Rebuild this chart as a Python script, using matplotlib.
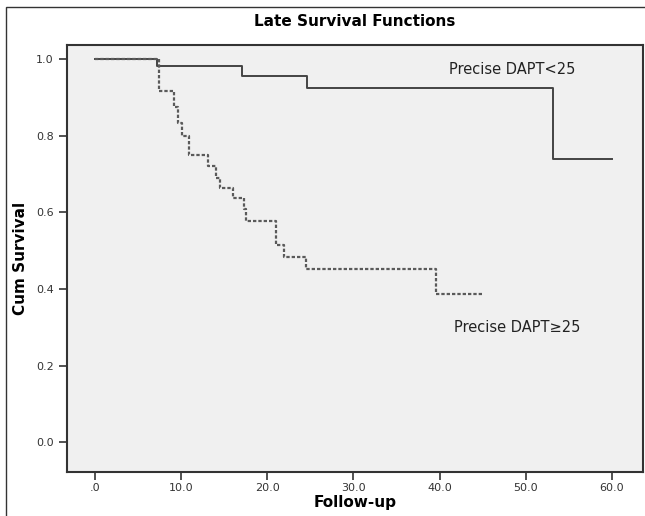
import matplotlib
matplotlib.use("Agg")
import matplotlib.pyplot as plt
from matplotlib.patches import Rectangle

# Kaplan-Meier step data
time_low = [0, 7.2, 17.1, 24.6, 53.2, 60.0]
surv_low = [1.0, 0.982, 0.956, 0.924, 0.74, 0.74]

time_high = [0, 7.5, 9.2, 9.7, 10.1, 11.0, 13.1, 14.1, 14.6, 16.1, 17.3, 17.6,
             21.0, 22.0, 24.5, 39.6, 45.0]
surv_high = [1.0, 0.917, 0.875, 0.833, 0.80, 0.75, 0.721, 0.689, 0.663, 0.637,
             0.61, 0.578, 0.515, 0.483, 0.452, 0.386, 0.386]

x_ticks = [0, 10, 20, 30, 40, 50, 60]
x_labels = [".0", "10.0", "20.0", "30.0", "40.0", "50.0", "60.0"]
y_ticks = [0.0, 0.2, 0.4, 0.6, 0.8, 1.0]
y_labels = ["0.0", "0.2", "0.4", "0.6", "0.8", "1.0"]

plt.rcParams['font.family'] = ['DejaVu Sans']

fig = plt.figure(figsize=(6.45, 5.16), dpi=100)
ax = fig.add_axes([67 / 645, 44 / 516, 576 / 645, 427 / 516])
ax.set_facecolor('#f0f0f0')

# outer frame around the whole chart
fig.patches.append(Rectangle((6 / 645, -0.02), 1.0, (516 - 7) / 516 + 0.02,
                             transform=fig.transFigure, fill=False,
                             edgecolor='#333333', linewidth=1.0))

ax.plot(time_low, surv_low, drawstyle='steps-post', color='#444444',
        linewidth=1.4)
ax.plot(time_high, surv_high, drawstyle='steps-post', color='#5a5a5a',
        linewidth=1.6, linestyle=(0, (1.5, 0.9)))

ax.text(41.1, 0.974, "Precise DAPT<25", fontsize=10.5, color='#222222',
        va='center', ha='left')
ax.text(41.7, 0.30, "Precise DAPT\u226525", fontsize=10.5, color='#222222',
        va='center', ha='left')

ax.set_xlim(-3.2, 63.6)
ax.set_ylim(-0.078, 1.037)
ax.set_xticks(x_ticks)
ax.set_xticklabels(x_labels)
ax.set_yticks(y_ticks)
ax.set_yticklabels(y_labels)
ax.tick_params(axis='both', direction='out', length=6, width=1.2,
               color='#333333', labelsize=8, labelcolor='#333333')
ax.tick_params(axis='x', pad=2)

for sp in ax.spines.values():
    sp.set_color('#333333')
    sp.set_linewidth(1.5)

ax.set_xlabel("Follow-up", fontsize=11, fontweight='bold', labelpad=1)
ax.set_ylabel("Cum Survival", fontsize=11, fontweight='bold', labelpad=6)
ax.set_title("Late Survival Functions", fontsize=11, fontweight='bold',
             pad=14)

fig.savefig("out.png", dpi=100)
